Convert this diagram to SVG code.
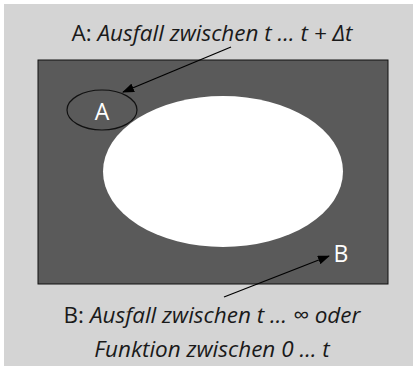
<svg xmlns="http://www.w3.org/2000/svg" width="416" height="369" viewBox="0 0 416 369">
<defs>
<marker id="ah" markerWidth="12" markerHeight="9" refX="11" refY="4.5" orient="auto" markerUnits="userSpaceOnUse">
<path d="M0,0 L12,4.5 L0,9 Z" fill="#000"/>
</marker>
<style>
.t{font-family:"Open Sans","Noto Sans","Liberation Sans",sans-serif;font-size:22.5px;fill:#1a1a1a}
.i{font-style:italic}
.w{font-family:"Open Sans","Noto Sans","Liberation Sans",sans-serif;font-size:23px;fill:#fff}
.c{stroke:#000;stroke-width:1.3;fill:none;marker-end:url(#ah)}
</style>
</defs>
<rect x="4" y="4" width="409" height="362" fill="#d4d4d4"/>
<g id="universe"><rect x="38" y="60" width="350" height="224" fill="#5a5a5a" stroke="#111" stroke-width="1"/></g>
<g id="nodeB-region"><ellipse cx="223" cy="171.5" rx="120" ry="75.5" fill="#fff"/></g>
<g id="nodeA"><ellipse cx="102" cy="110" rx="35" ry="20" fill="#5a5a5a" stroke="#111" stroke-width="1.2"/>
<text class="w" x="102" y="120" text-anchor="middle">A</text></g>
<g id="nodeB"><text class="w" x="341" y="262" text-anchor="middle">B</text></g>
<g id="connectors">
<line class="c" x1="231" y1="47" x2="123" y2="92"/>
<line class="c" x1="224" y1="297" x2="329" y2="256"/>
</g>
<g id="labelA"><text class="t" x="212" y="41" text-anchor="middle">A: <tspan class="i">Ausfall zwischen t … t + Δt</tspan></text></g>
<g id="labelB"><text class="t" x="212" y="323" text-anchor="middle">B: <tspan class="i">Ausfall zwischen t … ∞ oder</tspan></text>
<text class="t i" x="212" y="357" text-anchor="middle">Funktion zwischen 0 … t</text></g>
</svg>
